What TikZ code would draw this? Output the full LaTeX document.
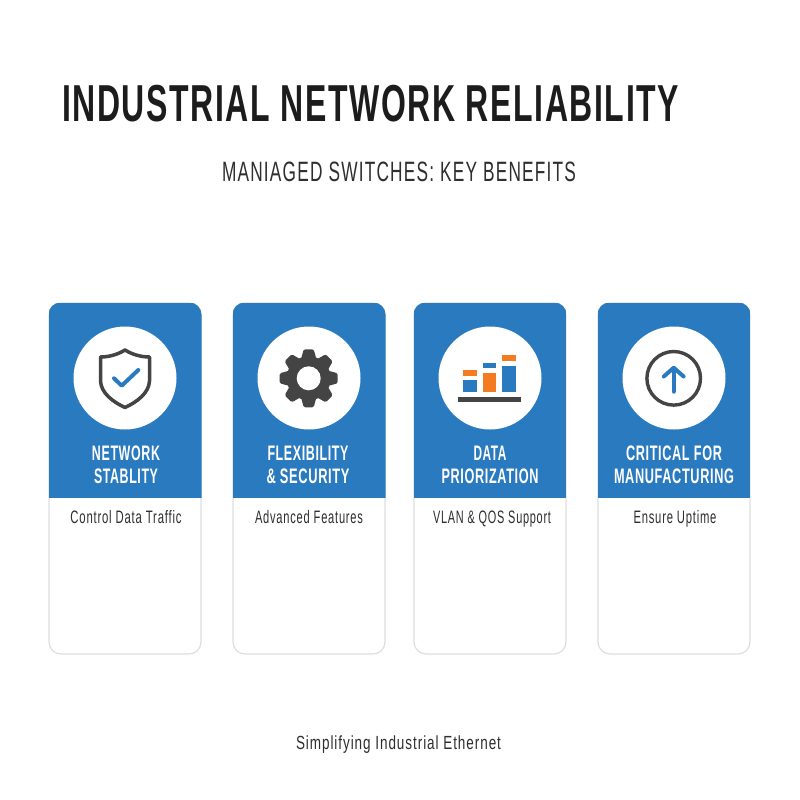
\documentclass[tikz,border=0pt]{standalone}
\usepackage{fontspec}
\usepackage{graphicx}
\setmainfont{Liberation Sans}
\newfontfamily\spacedfont[LetterSpace=7]{Liberation Sans}
\newfontfamily\spacedbold[LetterSpace=5]{Liberation Sans Bold}
\newcommand{\fitw}[2]{\resizebox{#1pt}{\height}{#2}}
\definecolor{cardblue}{HTML}{2A7ABF}
\definecolor{iconorange}{HTML}{F47B20}
\definecolor{icondark}{HTML}{444444}
\definecolor{inktext}{HTML}{1C1C1C}
\definecolor{subtext}{HTML}{2E2E2E}
\definecolor{cardedge}{HTML}{DEDEDE}
\tikzset{
  x=1pt,y=-1pt,
  txt/.style={inner sep=0pt,outer sep=0pt,anchor=center},
  titletext/.style={txt,text=inktext,font=\fontsize{52}{52}\spacedbold},
  subtitletext/.style={txt,text=subtext,font=\fontsize{28}{28}\spacedfont},
  headtext/.style={txt,text=white,font=\fontsize{21}{21}\spacedbold},
  bodytext/.style={txt,text=subtext,font=\fontsize{18}{18}\spacedfont},
  foottext/.style={txt,text=subtext,font=\fontsize{19}{19}\spacedfont},
  cardbody/.style={draw=cardedge,fill=white,line width=1.2pt,rounded corners=12pt},
  cardhead/.style={fill=cardblue},
  disc/.style={fill=white},
  iconline/.style={draw=icondark,line width=3.5pt,line join=round},
  accent/.style={draw=cardblue,line width=4pt,line cap=round,line join=round},
  barblue/.style={fill=cardblue},
  barorange/.style={fill=iconorange},
}
\newcommand{\cardbox}[2]{%
  \draw[cardbody] (#1,303) rectangle (#2,654);
  \begin{scope}
    \clip[rounded corners=12pt] (#1-0.5,302.5) rectangle (#2+0.5,654.5);
    \fill[cardhead] (#1-0.5,302.5) rectangle (#2+0.5,498);
  \end{scope}
}
\begin{document}
\begin{tikzpicture}
\useasboundingbox (0,0) rectangle (800,800);
\fill[white] (0,0) rectangle (800,800);

\node[titletext] (title) at (370.5,103.5) {\fitw{617}{INDUSTRIAL NETWORK RELIABILITY}};
\node[subtitletext] (subtitle) at (399,172) {\fitw{354}{MANIAGED SWITCHES: KEY BENEFITS}};

\cardbox{49}{201}
\cardbox{233}{385}
\cardbox{414}{566}
\cardbox{598}{750}

\fill[disc] (125,378) circle (51.5);
\fill[disc] (309,378) circle (51.5);
\fill[disc] (490,378) circle (51.5);
\fill[disc] (674,378) circle (51.5);

% shield
\draw[iconline] (125,350) .. controls (117,355) and (108,357) .. (100.5,357)
  -- (100.5,381) .. controls (101,393) and (113,402) .. (125,407.5)
  .. controls (137,402) and (149,393) .. (149.5,381)
  -- (149.5,357) .. controls (142,357) and (133,355) .. (125,350) -- cycle;
\draw[accent] (114,378.3) -- (121.7,385.7) -- (138.3,370);

% gear
\begin{scope}[shift={(308.7,378.3)}]
  \fill[icondark] (0,0) circle (22);
  \foreach \a in {0,45,...,315}{
    \fill[icondark,rotate=\a,rounded corners=1.5pt] (-8,-18) -- (-5,-29) -- (5,-29) -- (8,-18) -- cycle;
  }
  \fill[white] (0,0) circle (12);
\end{scope}

% bars
\fill[icondark] (458.3,396.7) rectangle (520.7,401.7);
\fill[barblue] (463.3,380.3) rectangle (476.7,392);
\fill[barorange] (463.3,370) rectangle (476.7,375.7);
\fill[barorange] (483,373.3) rectangle (496.3,392);
\fill[barblue] (483,363) rectangle (496.3,368.3);
\fill[barblue] (502.3,365.7) rectangle (515.7,392);
\fill[barorange] (502.3,355.3) rectangle (515.7,361);

% uptime arrow
\draw[icondark,line width=3.4pt] (673.7,378.3) circle (26.8);
\draw[accent] (673.7,391.7) -- (673.7,369);
\draw[accent] (663.8,376.5) -- (673.7,367.7) -- (683.6,376.5);

\node[headtext] (h1a) at (126,453) {\fitw{68}{NETWORK}};
\node[headtext] (h1b) at (126,476) {\fitw{64}{STABLITY}};
\node[headtext] (h2a) at (308,453) {\fitw{81}{FLEXIBILITY}};
\node[headtext] (h2b) at (308,476) {\fitw{83}{\& SECURITY}};
\node[headtext] (h3a) at (490,453) {\fitw{33}{DATA}};
\node[headtext] (h3b) at (490,476) {\fitw{97}{PRIORIZATION}};
\node[headtext] (h4a) at (674,453) {\fitw{96}{CRITICAL FOR}};
\node[headtext] (h4b) at (674,476) {\fitw{120}{MANUFACTURING}};

\node[bodytext,anchor=base] (b1) at (126,523.5) {\fitw{111}{Control Data Traffic}};
\node[bodytext,anchor=base] (b2) at (309,523.5) {\fitw{108}{Advanced Features}};
\node[bodytext,anchor=base] (b3) at (492,523.5) {\fitw{118}{VLAN \& QOS Support}};
\node[bodytext,anchor=base] (b4) at (675,523.5) {\fitw{83}{Ensure Uptime}};

\node[foottext,anchor=base] (foot) at (398.5,749) {\fitw{205}{Simplifying Industrial Ethernet}};
\end{tikzpicture}
\end{document}
